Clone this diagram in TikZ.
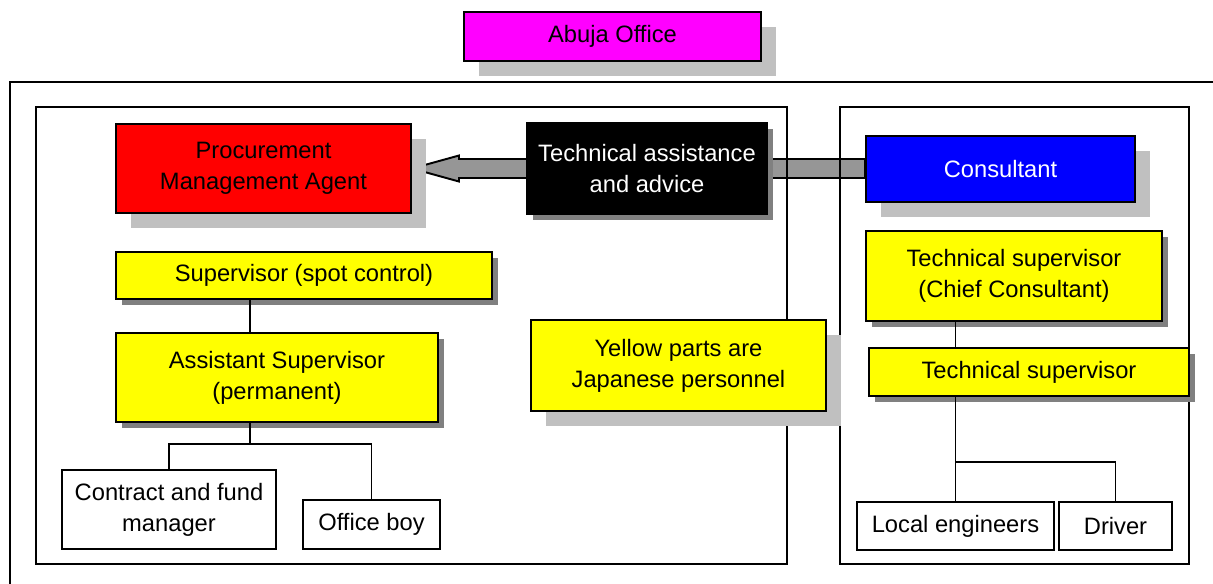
\documentclass[tikz,border=0pt]{standalone}
\usepackage{fontspec}
\setmainfont{Liberation Sans}
\usetikzlibrary{calc,shadows}

\pgfdeclarelayer{background}
\pgfdeclarelayer{frames}
\pgfsetlayers{background,frames,main}

\definecolor{lightshade}{RGB}{192,192,192}
\definecolor{darkshade}{RGB}{128,128,128}
\definecolor{barfill}{RGB}{150,150,150}
\definecolor{officepink}{RGB}{255,0,255}
\definecolor{staffyellow}{RGB}{255,255,0}
\definecolor{agentred}{RGB}{255,0,0}
\definecolor{consblue}{RGB}{0,0,255}

\tikzset{
  size/.style 2 args={minimum width=#1*0.02cm,minimum height=#2*0.02cm},
  box/.style={draw,line width=1.1pt,align=center,inner sep=0pt,
    font=\fontsize{13.5}{17.5}\selectfont},
  bigshadow/.style={drop shadow={shadow xshift=0.3cm,shadow yshift=-0.3cm,
    opacity=1,fill=lightshade}},
  smallshadow/.style={drop shadow={shadow xshift=0.12cm,shadow yshift=-0.12cm,
    opacity=1,fill=darkshade}},
  staff/.style={box,fill=staffyellow,smallshadow},
  local/.style={box,fill=white,line width=0.8pt},
  frame/.style={line width=1pt},
  link/.style={line width=0.8pt},
  arrowbar/.style={fill=barfill,draw=black,line width=1.1pt,line join=miter},
}

\begin{document}
\begin{tikzpicture}[x=0.02cm,y=-0.02cm]
\useasboundingbox (0,0) rectangle (1213,583);

% head office
\node[box,fill=officepink,bigshadow,size={297}{49}] (abuja) at (612.5,36.5) {Abuja Office};

% left office
\node[box,fill=agentred,bigshadow,size={295}{89}] (pma) at (263.5,168.5) {Procurement\\Management Agent};
\node[staff,size={376}{47}] (spot) at (304,275.5) {Supervisor (spot control)};
\node[staff,size={322}{89}] (asst) at (277,377.5) {Assistant Supervisor\\(permanent)};
\node[local,size={214}{79}] (contract) at (169,509.5) {Contract and fund\\manager};
\node[local,size={137}{49}] (boy) at (371.5,524.5) {Office boy};

% middle
\node[box,fill=black,text=white,smallshadow,size={240}{91}] (advice) at (647,168.5) {Technical assistance\\and advice};
\node[box,fill=staffyellow,bigshadow,size={295}{91}] (note) at (678.5,365.5) {Yellow parts are\\Japanese personnel};

% consultant side
\node[box,fill=consblue,text=white,bigshadow,size={269}{66}] (cons) at (1000.5,169) {Consultant};
\node[staff,size={296}{90}] (chief) at (1014,276) {Technical supervisor\\(Chief Consultant)};
\node[staff,size={320}{48}] (techsup) at (1029,372) {Technical supervisor};
\node[local,size={197}{48}] (eng) at (955.5,526) {Local engineers};
\node[local,size={113}{48}] (driver) at (1115.5,526) {Driver};

% fork points
\coordinate (trunkL) at (250,444);
\coordinate (forkR) at (955,462);

\draw[link] (trunkL |- spot.south) -- (trunkL |- asst.north);
\draw[link] (trunkL |- asst.south) -- (trunkL);
\draw[link] (contract.north) |- (boy.north |- trunkL) -- (boy.north);

\draw[link] (eng.north |- chief.south) -- (eng.north |- techsup.north);
\draw[link] (eng.north |- techsup.south) -- (eng.north);
\draw[link] (forkR) -| (driver.north);

% thick arrow behind the advice box
\begin{pgfonlayer}{background}
\filldraw[arrowbar] (pma.east) -- ++(47,-13) -- ++(0,3.5)
  -- ($(cons.west |- pma.east)+(0,-9.5)$) -- ($(cons.west |- pma.east)+(0,9.5)$)
  -- ($(pma.east)+(47,9.5)$) -- ++(0,3.5) -- cycle;
\end{pgfonlayer}

% office frames
\begin{pgfonlayer}{frames}
\draw[frame] (10,600) -- (10,82) -- (1220,82);
\draw[frame] (36,107) rectangle (787,564);
\draw[frame] (840,107) rectangle (1189,564);
\end{pgfonlayer}
\end{tikzpicture}
\end{document}
